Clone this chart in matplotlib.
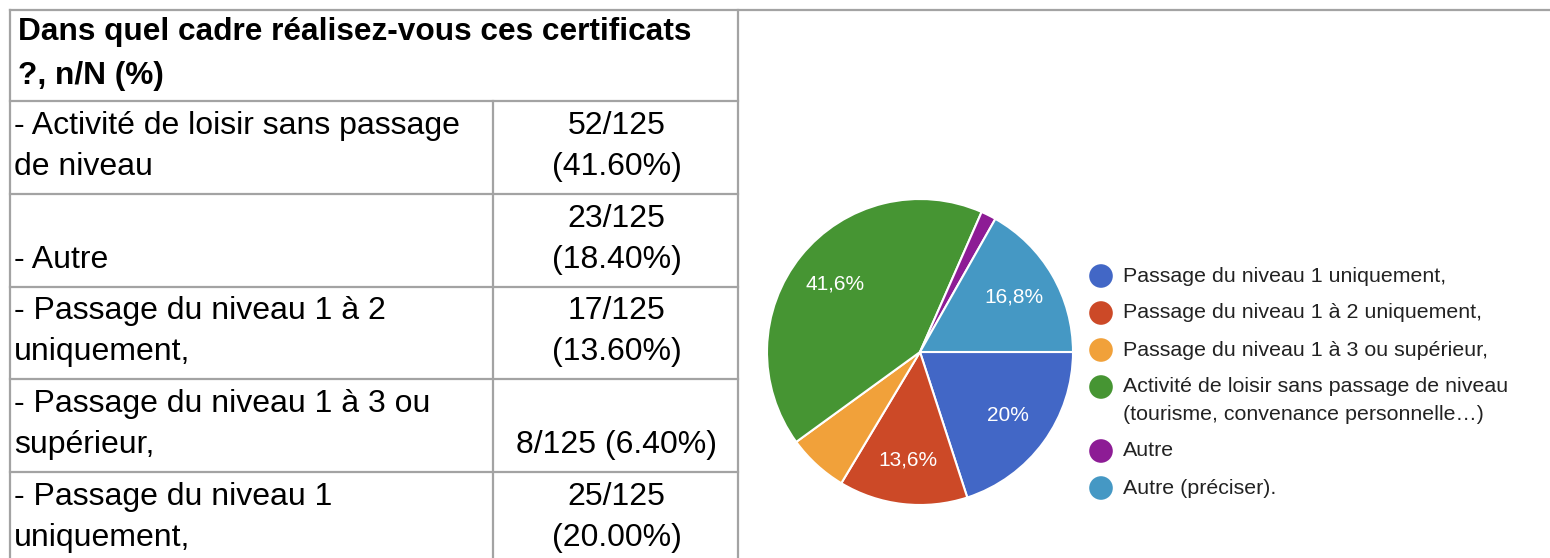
import matplotlib.pyplot as plt

plt.rcParams['font.family'] = ['Liberation Sans', 'DejaVu Sans']

# table data
header = ["Dans quel cadre réalisez-vous ces certificats", "?, n/N (%)"]
answers = ["- Activité de loisir sans passage\nde niveau",
           "- Autre",
           "- Passage du niveau 1 à 2\nuniquement,",
           "- Passage du niveau 1 à 3 ou\nsupérieur,",
           "- Passage du niveau 1\nuniquement,"]
counts = ["52/125\n(41.60%)", "23/125\n(18.40%)", "17/125\n(13.60%)",
          "8/125 (6.40%)", "25/125\n(20.00%)"]

# pie data
pie_labels = ["Passage du niveau 1 uniquement,",
              "Passage du niveau 1 à 2 uniquement,",
              "Passage du niveau 1 à 3 ou supérieur,",
              "Activité de loisir sans passage de niveau\n(tourisme, convenance personnelle…)",
              "Autre",
              "Autre (préciser)."]
pie_values = [25, 17, 8, 52, 2, 21]
pie_colors = ['#4267c6', '#cc4927', '#f1a13a', '#469533', '#8d1c95', '#4598c4']

W, H = 1550, 558
fig = plt.figure(figsize=(W / 100, H / 100), dpi=100)

# full figure axes in pixel coords for the table and legend
ax = fig.add_axes([0, 0, 1, 1])
ax.set_xlim(0, W)
ax.set_ylim(H, 0)
ax.axis('off')

grid = '#a3a3a3'
lw = 1.6
x_left, x_mid, x_right = 10, 493, 738
row_lines = [101, 194, 287, 379, 472, 565]

ax.plot([x_left, W], [10, 10], color=grid, lw=lw, clip_on=False)
ax.plot([x_left, x_left], [10, H], color=grid, lw=lw)
ax.plot([x_right, x_right], [10, H], color=grid, lw=lw)
for y in row_lines[:-1]:
    ax.plot([x_left, x_right], [y, y], color=grid, lw=lw)
ax.plot([x_mid, x_mid], [row_lines[0], H], color=grid, lw=lw)

# header
for i, line in enumerate(header):
    ax.text(x_left + 8, 40 + 44 * i, line, fontsize=22.8, fontweight='bold',
            va='baseline', ha='left', color='black')

body_fs = 23
line_h = 41
for r in range(len(answers)):
    bottom = row_lines[r + 1]
    for txt, x, ha in [(answers[r], x_left + 4, 'left'),
                       (counts[r], (x_mid + x_right) / 2 + 1, 'center')]:
        lines = txt.split('\n')
        for k, line in enumerate(reversed(lines)):
            ax.text(x, bottom - 19 - line_h * k, line, fontsize=body_fs,
                    va='baseline', ha=ha, color='black')

# pie
cx, cy, rad = 920, 352, 153
pax = fig.add_axes([(cx - rad) / W, (H - cy - rad) / H, 2 * rad / W, 2 * rad / H])


def fmt(p):
    if p < 10:
        return ''
    return '{:g}%'.format(round(p, 1)).replace('.', ',')


wedges, texts, autotexts = pax.pie(pie_values, colors=pie_colors, startangle=0,
                                   counterclock=False, autopct=fmt, pctdistance=0.71,
                                   wedgeprops=dict(edgecolor='white', linewidth=1.5),
                                   textprops=dict(color='white', fontsize=15))
pax.set_xlim(-1, 1)
pax.set_ylim(-1, 1)
pax.set_aspect('equal')
for w in wedges:
    w.set_clip_on(False)

# legend
ly = 276
for lab, col in zip(pie_labels, pie_colors):
    ax.scatter([1101], [ly], s=17 ** 2, color=col, edgecolors='none')
    parts = lab.split('\n')
    for k, part in enumerate(parts):
        ax.text(1123, ly + 27 * k, part, fontsize=15.4, color='#222222',
                va='center', ha='left')
    ly += 37 + 27 * (len(parts) - 1)

fig.savefig('out.png', dpi=100, facecolor='white')
